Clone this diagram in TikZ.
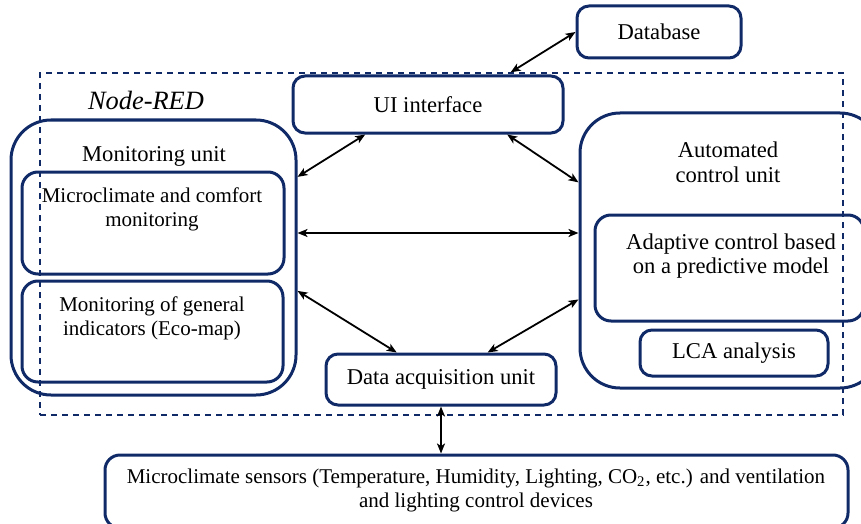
\documentclass[tikz,border=0pt]{standalone}
\usepackage{fontspec}
\setmainfont{Liberation Serif}
\usetikzlibrary{arrows.meta,fit,calc}
\definecolor{boxblue}{RGB}{16,42,104}

\tikzset{
  box/.style={draw=boxblue, line width=1.5pt, rounded corners=6pt, inner sep=0pt},
  unitbox/.style={box, rounded corners=20pt},
  subbox/.style={box, rounded corners=8pt},
  frame/.style={draw=boxblue, line width=0.75pt, dash pattern=on 3pt off 2.5pt, inner sep=0pt},
  small/.style={font=\fontsize{10.5}{12}\selectfont, align=center},
  link/.style={line width=0.9pt, {Stealth[length=5pt,width=4pt,inset=1.3pt]}-{Stealth[length=5pt,width=4pt,inset=1.3pt]}},
}

\begin{document}
\begin{tikzpicture}[x=0.5pt,y=-0.5pt,font=\fontsize{11.3}{12.3}\selectfont]
    \clip (0,0) rectangle (861,524);
    \useasboundingbox (0,0) rectangle (861,524);

    % Node-RED frame
    \node[frame, fit={(40,73) (843,415)}] (nodered) {};
    \node[font=\fontsize{13.2}{15}\selectfont\itshape] (nrlabel) at (146,100) {Node-RED};

    % Database and UI
    \node[box, minimum width=82pt, minimum height=26pt] (db) at (659,32) {Database};
    \node[box, minimum width=135pt, minimum height=28.5pt] (ui) at (428,104.5) {UI interface};

    % Monitoring unit
    \node[unitbox, fit={(11,120) (296,395)}] (mon) {};
    \node (monlabel) at (154,156) {Monitoring unit};
    \node[subbox, fit={(22,172) (284,274)}] (micro) {};
    \node[small] (microlabel) at (152,209) {Microclimate and comfort\\monitoring};
    \node[subbox, fit={(22,281) (283,382)}] (eco) {};
    \node[small] (ecolabel) at (152,318) {Monitoring of general\\indicators (Eco-map)};

    % Automated control unit
    \node[unitbox, fit={(580,113) (880,388)}] (auto) {};
    \node[align=center] (autolabel) at (728,162) {Automated\\control unit};
    \node[subbox, fit={(595,215) (864,321)}] (adapt) {};
    \node[align=center] (adaptlabel) at (731,256) {Adaptive control based\\on a predictive model};
    \node[box, minimum width=94pt, minimum height=23pt] (lca) at (734,353) {LCA analysis};

    % Data acquisition unit
    \node[box, minimum width=115pt, minimum height=25.5pt] (daq) at (441,379.5) {Data acquisition unit};

    % Sensors and devices
    \node[box, rounded corners=7.5pt, fit={(105,455) (848,528)}] (sens) {};
    \node[small] (senslabel) at (476,490) {Microclimate sensors (Temperature, Humidity, Lighting, CO\textsubscript{2}, etc.) and ventilation\\and lighting control devices};

    % Connections
    \coordinate (hline) at (0,233);
    \draw[link, shorten >=2pt] (db.west) -- ($(ui.north west)!0.79!(ui.north east)$);
    \draw[link] ($(ui.south west)!0.27!(ui.south east)$) -- ($(mon.north east)!0.21!(mon.south east)$);
    \draw[link] ($(ui.south west)!0.79!(ui.south east)$) -- ($(auto.north west)!0.255!(auto.south west)$);
    \draw[link] (mon.east |- hline) -- (auto.west |- hline);
    \draw[link] ($(mon.north east)!0.62!(mon.south east)$) -- ($(daq.north west)!0.31!(daq.north east)$);
    \draw[link] ($(auto.north west)!0.676!(auto.south west)$) -- ($(daq.north west)!0.70!(daq.north east)$);
    \draw[link] (daq.south) -- (daq.south |- sens.north);
\end{tikzpicture}
\end{document}
